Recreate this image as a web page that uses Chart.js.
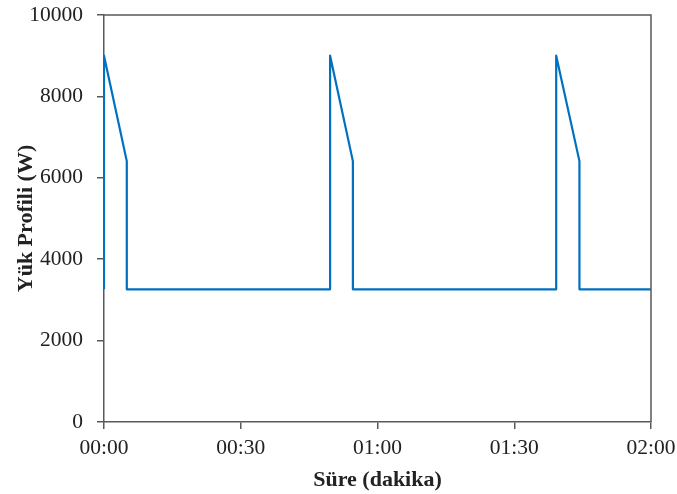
<!DOCTYPE html>
<html>
<head>
<meta charset="utf-8">
<script src="https://cdn.jsdelivr.net/npm/chart.js@4"></script>
<style>
  html, body { margin: 0; padding: 0; background: #fff; }
</style>
</head>
<body>
<canvas id="loadChart" width="677" height="494"></canvas>
<script>
// Load profile, time in minutes
const timeMin = [0, 0, 5, 5, 49.6, 49.6, 54.6, 54.6, 99.2, 99.2, 104.3, 104.3, 120];
const loadW = [3260, 9000, 6410, 3260, 3260, 9000, 6410, 3260, 3260, 9000, 6410, 3260, 3260];
const xTicks = [0, 30, 60, 90, 120];

const axisColor = '#595959';
const family = '"Liberation Serif", "Times New Roman", serif';
const tickFont = { family: family, size: 21.5 };
const titleFont = { family: family, size: 22, weight: 'bold' };

function fmtTime(v) {
  const h = Math.floor(v / 60), m = Math.round(v % 60);
  return String(h).padStart(2, '0') + ':' + String(m).padStart(2, '0');
}

// draw top and right frame of the plot area
const frame = {
  id: 'frame',
  afterDraw(chart) {
    const a = chart.chartArea, ctx = chart.ctx;
    ctx.save();
    ctx.strokeStyle = axisColor;
    ctx.lineWidth = 1.5;
    ctx.beginPath();
    ctx.moveTo(a.left, a.top);
    ctx.lineTo(a.right, a.top);
    ctx.lineTo(a.right, a.bottom);
    ctx.stroke();
    ctx.restore();
  }
};

new Chart(document.getElementById('loadChart'), {
  type: 'line',
  data: {
    datasets: [{
      data: timeMin.map((t, i) => ({ x: t, y: loadW[i] })),
      borderColor: '#0070C0',
      borderWidth: 2.2,
      borderJoinStyle: 'round',
      pointRadius: 0,
      tension: 0,
      fill: false,
    }],
  },
  options: {
    responsive: false,
    animation: false,
    layout: { padding: { top: 15, right: 26, left: 9, bottom: 0 } },
    plugins: { legend: { display: false }, tooltip: { enabled: false } },
    scales: {
      x: {
        type: 'linear',
        min: 0, max: 120,
        afterBuildTicks: (s) => { s.ticks = xTicks.map(v => ({ value: v })); },
        afterFit: (s) => { s.height = 72; s.paddingLeft = 0; s.paddingRight = 0; },
        grid: { drawOnChartArea: false, color: axisColor, tickLength: 7, lineWidth: 1.5 },
        border: { color: axisColor, width: 1.5 },
        ticks: { color: '#222', font: tickFont, padding: 6, maxRotation: 0, callback: (v) => fmtTime(v) },
        title: { display: true, text: 'Süre (dakika)', color: '#222', font: titleFont, padding: { top: 0, bottom: 0 } },
      },
      y: {
        min: 0, max: 10000,
        afterFit: (s) => { s.width = 95; s.paddingTop = 0; s.paddingBottom = 0; },
        grid: { drawOnChartArea: false, color: axisColor, tickLength: 7, lineWidth: 1.5 },
        border: { color: axisColor, width: 1.5 },
        ticks: { color: '#222', font: tickFont, stepSize: 2000, padding: 14, callback: (v) => String(v) },
        title: { display: true, text: 'Yük Profili (W)', color: '#222', font: titleFont, padding: { top: 4, bottom: 4 } },
      },
    },
  },
  plugins: [frame],
});
</script>
</body>
</html>
